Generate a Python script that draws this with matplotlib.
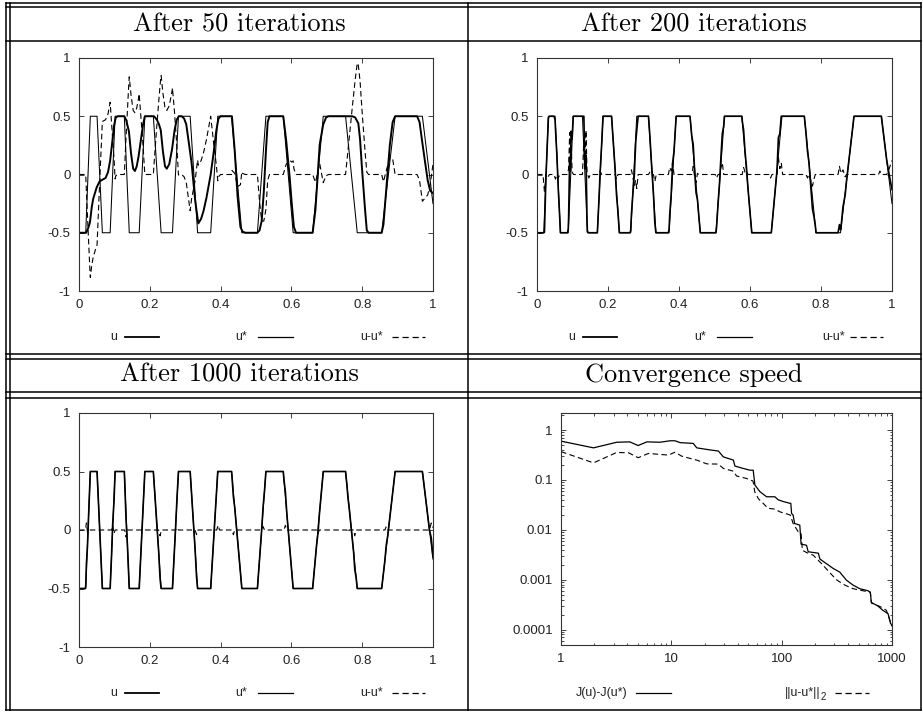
import matplotlib
matplotlib.use("Agg")
import matplotlib.pyplot as plt
from matplotlib.lines import Line2D
from matplotlib.ticker import FixedLocator, FixedFormatter, LogLocator, NullFormatter
import numpy as np

W, H = 923, 713

# target control u* (piecewise linear breakpoints)
ustar_x = [0, 0.019, 0.032, 0.051, 0.066, 0.088, 0.102, 0.128, 0.142, 0.170, 0.186,
           0.210, 0.232, 0.264, 0.281, 0.314, 0.335, 0.372, 0.392, 0.431, 0.460,
           0.504, 0.528, 0.577, 0.605, 0.660, 0.690, 0.753, 0.786, 0.855, 0.893,
           0.970, 1.0]
ustar_y = [-0.5, -0.5, 0.5, 0.5, -0.5, -0.5, 0.5, 0.5, -0.5, -0.5, 0.5,
           0.5, -0.5, -0.5, 0.5, 0.5, -0.5, -0.5, 0.5, 0.5, -0.5,
           -0.5, 0.5, 0.5, -0.5, -0.5, 0.5, 0.5, -0.5, -0.5, 0.5,
           0.5, -0.25]

# u after 50 iterations
u50_x = [0, 0.020, 0.026, 0.031, 0.036, 0.040, 0.050, 0.058, 0.066, 0.075, 0.082, 0.088,
         0.094, 0.099, 0.104, 0.110, 0.128, 0.133, 0.141, 0.147, 0.153, 0.158,
         0.163, 0.168, 0.175, 0.181, 0.186, 0.212, 0.220, 0.226, 0.231, 0.237,
         0.243, 0.248, 0.255, 0.263, 0.270, 0.276, 0.282, 0.290, 0.297, 0.303,
         0.309, 0.318, 0.328, 0.337, 0.345, 0.352, 0.360, 0.366, 0.372, 0.380,
         0.388, 0.394, 0.400, 0.432, 0.440, 0.448, 0.456, 0.462, 0.470, 0.504,
         0.510, 0.516, 0.522, 0.528, 0.533, 0.538, 0.577, 0.585, 0.595, 0.601,
         0.607, 0.613, 0.660, 0.668, 0.680, 0.690, 0.698, 0.705, 0.772, 0.780,
         0.789, 0.794, 0.799, 0.808, 0.813, 0.818, 0.855, 0.860, 0.870, 0.878,
         0.886, 0.893, 0.955, 0.962, 0.970, 0.977, 0.985, 0.992, 1.0]
u50_y = [-0.5, -0.5, -0.46, -0.41, -0.28, -0.21, -0.11, -0.06, -0.045, -0.03, 0.02, 0.12,
         0.28, 0.42, 0.49, 0.5, 0.5, 0.47, 0.37, 0.18, 0.05, 0.03,
         0.07, 0.15, 0.30, 0.43, 0.5, 0.5, 0.47, 0.43, 0.38, 0.20,
         0.07, 0.05, 0.09, 0.22, 0.38, 0.47, 0.5, 0.5, 0.48, 0.43,
         0.30, 0.10, -0.22, -0.42, -0.38, -0.31, -0.20, -0.10, 0.0, 0.18,
         0.38, 0.48, 0.5, 0.5, 0.20, -0.19, -0.45, -0.49, -0.5, -0.5,
         -0.48, -0.40, -0.15, 0.20, 0.45, 0.5, 0.5, 0.30, -0.02, -0.25,
         -0.45, -0.5, -0.5, -0.30, 0.26, 0.43, 0.49, 0.5, 0.5, 0.49,
         0.44, 0.30, 0.07, -0.30, -0.48, -0.5, -0.5, -0.43, -0.05, 0.25,
         0.45, 0.5, 0.5, 0.45, 0.27, 0.12, -0.05, -0.14, -0.16]

# error u-u* after 200 iterations
err200_x = [0, 0.017, 0.021, 0.025, 0.031, 0.035, 0.048, 0.052, 0.056, 0.060, 0.064,
            0.086, 0.089, 0.092, 0.094, 0.096, 0.099, 0.103,
            0.128, 0.132, 0.135, 0.138, 0.141, 0.146, 0.150,
            0.175, 0.178, 0.182, 0.220, 0.224, 0.228,
            0.262, 0.266, 0.270, 0.274, 0.278, 0.281, 0.285,
            0.314, 0.318, 0.322, 0.328, 0.332, 0.336,
            0.370, 0.374, 0.378, 0.382, 0.386,
            0.436, 0.440, 0.444, 0.448, 0.452, 0.456,
            0.502, 0.506, 0.510, 0.514, 0.518, 0.522, 0.526,
            0.578, 0.582, 0.586, 0.590, 0.594, 0.654, 0.658, 0.662,
            0.676, 0.680, 0.684, 0.688, 0.692,
            0.758, 0.762, 0.766, 0.772, 0.776, 0.780, 0.784,
            0.848, 0.852, 0.856, 0.862, 0.868, 0.872,
            0.962, 0.966, 0.970, 0.985, 0.992, 1.0]
err200_y = [0, 0, -0.15, 0, -0.02, 0, 0, -0.04, 0, -0.03, 0,
            0, 0.05, 0.36, 0.10, 0.30, 0.02, 0,
            0, 0.30, 0.05, 0.38, 0.02, -0.03, 0,
            0, 0.03, 0, 0, -0.04, 0,
            0, 0.04, -0.02, -0.10, -0.05, -0.12, 0,
            0, 0.02, 0, 0, -0.06, 0,
            0, 0.06, 0.03, 0.10, 0,
            0, 0.07, -0.02, -0.07, 0.01, 0,
            0, -0.03, 0, 0, 0.06, 0.10, 0,
            0, 0.06, 0.02, 0.03, 0, 0, -0.03, 0,
            0, 0.15, 0.05, 0.10, 0,
            0, -0.03, 0, -0.06, -0.10, -0.04, 0,
            0, 0.07, 0.01, 0.04, -0.02, 0,
            0, 0.03, 0, 0, 0.05, 0.12]

# error u-u* after 1000 iterations
err1000_x = [0, 0.018, 0.021, 0.024, 0.027, 0.092, 0.095, 0.099, 0.102,
             0.129, 0.133, 0.137, 0.225, 0.229, 0.233, 0.273, 0.277, 0.281,
             0.328, 0.332, 0.336, 0.389, 0.393, 0.397, 0.432, 0.436, 0.440,
             0.516, 0.520, 0.524, 0.579, 0.583, 0.587, 0.601, 0.605, 0.609,
             0.671, 0.675, 0.679, 0.757, 0.760, 0.763, 0.776, 0.779, 0.783,
             0.864, 0.868, 0.872, 0.990, 0.995, 1.0]
err1000_y = [0, 0, 0.06, -0.02, 0, 0, 0.04, -0.03, 0,
             0, -0.06, 0, 0, -0.05, 0, 0, 0.02, 0,
             0, -0.04, 0, 0, 0.04, 0, 0, -0.04, 0,
             0, 0.03, 0, 0, 0.04, 0, 0, -0.02, 0,
             0, -0.03, 0, 0, -0.02, 0, 0, -0.05, 0,
             0, 0.03, 0, 0, 0.06, 0.02]

# convergence speed
iters_j = [1, 1.97, 3.2, 4.2, 5.0, 6.0, 7.9, 9.7, 10.8, 12.0, 15.8, 17, 22.4, 26.7,
           29.6, 36.5, 37.7, 44.8, 51.5, 55.2, 57.2, 63.6, 73, 86.7, 92.9, 103,
           118.7, 121, 123, 127, 131, 146, 150, 168, 174, 215, 222, 254, 293,
           336, 386, 443, 510, 605, 636, 650, 748, 823, 921, 970, 1000]
j_gap = [0.60, 0.44, 0.57, 0.58, 0.49, 0.58, 0.57, 0.61, 0.61, 0.56, 0.54, 0.44, 0.40,
         0.38, 0.29, 0.25, 0.19, 0.17, 0.157, 0.157, 0.079, 0.058, 0.046, 0.046,
         0.040, 0.037, 0.034, 0.034, 0.0213, 0.0197, 0.0134, 0.0124, 0.00516,
         0.0049, 0.00363, 0.0034, 0.0026, 0.0021, 0.00168, 0.00142, 0.00098,
         0.00078, 0.00066, 0.00060, 0.00056, 0.00035, 0.000295, 0.000244,
         0.000208, 0.000132, 0.000124]
iters_n = [1, 1.97, 3.2, 4.1, 5.0, 6.2, 7.9, 9.4, 10.8, 12.4, 15.8, 17, 21, 26.7,
           29.6, 36.5, 39, 48, 55, 57, 61.5, 68, 75, 87, 96, 110, 120, 127, 141,
           150, 154, 168, 193, 230, 270, 315, 373, 443, 545, 636, 650, 777, 888,
           970, 1000]
norm_gap = [0.37, 0.22, 0.356, 0.35, 0.279, 0.34, 0.325, 0.315, 0.36, 0.30, 0.26,
            0.25, 0.21, 0.208, 0.17, 0.15, 0.12, 0.107, 0.095, 0.058, 0.042, 0.034,
            0.027, 0.026, 0.023, 0.021, 0.0197, 0.0134, 0.0092, 0.0085, 0.0039,
            0.0035, 0.0031, 0.0021, 0.00142, 0.00099, 0.00078, 0.00066, 0.00060,
            0.00056, 0.00034, 0.00029, 0.000244, 0.000142, 0.000115]

titles = ["After 50 iterations", "After 200 iterations",
          "After 1000 iterations", "Convergence speed"]
wave_xticks = [0, 0.2, 0.4, 0.6, 0.8, 1]
wave_xlabels = ["0", "0.2", "0.4", "0.6", "0.8", "1"]
wave_yticks = [-1, -0.5, 0, 0.5, 1]
wave_ylabels = ["-1", "-0.5", "0", "0.5", "1"]
log_xticks = [1, 10, 100, 1000]
log_xlabels = ["1", "10", "100", "1000"]
log_yticks = [1e-4, 1e-3, 1e-2, 1e-1, 1]
log_ylabels = ["0.0001", "0.001", "0.01", "0.1", "1"]

SANS = "Liberation Sans"
TICK = "#222222"
U_MIN, U_MAX = -0.5, 0.5   # control bounds

fig = plt.figure(figsize=(W / 100, H / 100), dpi=100)


def rect(x0, x1, ytop, ybot):
    return [x0 / W, 1 - ybot / H, (x1 - x0) / W, (ybot - ytop) / H]


def fline(x0, y0, x1, y1, **kw):
    fig.add_artist(Line2D([x0 / W, x1 / W], [1 - y0 / H, 1 - y1 / H],
                          transform=fig.transFigure, **kw))


def style_axes(ax):
    for s in ax.spines.values():
        s.set_linewidth(0.8)
        s.set_color("#333333")
    ax.tick_params(which="major", direction="in", top=True, right=True,
                   length=3.5, width=0.6, labelsize=9.5, pad=6, colors=TICK)
    ax.tick_params(which="minor", direction="in", top=True, right=True,
                   length=1.8, width=0.5)
    for lab in ax.get_xticklabels() + ax.get_yticklabels():
        lab.set_fontfamily(SANS)


def wave_axes(r):
    ax = fig.add_axes(r)
    ax.set_xlim(0, 1)
    ax.set_ylim(-1, 1)
    ax.set_xticks(wave_xticks)
    ax.set_xticklabels(wave_xlabels)
    ax.set_yticks(wave_yticks)
    ax.set_yticklabels(wave_ylabels)
    style_axes(ax)
    return ax


def draw_wave(ax, u_x, u_y, e_x, e_y, u_lw):
    ax.plot(ustar_x, ustar_y, color="black", lw=0.75)
    ax.plot(u_x, u_y, color="black", lw=u_lw)
    ax.plot(e_x, e_y, color="black", lw=0.8, dashes=(5, 3))


def legend_entry(text_x, y, x0, x1, label, lw=1.0, dashed=False, sub=None):
    fig.text(text_x / W, 1 - y / H, label, ha="right", va="center",
             fontsize=9, family=SANS, color=TICK)
    if sub is not None:
        fig.text(text_x / W, 1 - (y + 4) / H, sub, ha="left", va="center",
                 fontsize=7, family=SANS, color=TICK)
    kw = dict(color="black", lw=lw)
    if dashed:
        kw["dashes"] = (5, 3)
    fline(x0, y, x1, y, **kw)


# panel 1 : after 50 iterations (error is u - u*)
grid50 = np.union1d(u50_x, ustar_x)
e50 = np.interp(grid50, u50_x, u50_y) - np.interp(grid50, ustar_x, ustar_y)
ax1 = wave_axes(rect(79, 433, 58, 291))
draw_wave(ax1, u50_x, u50_y, grid50, e50, 1.4)

# panel 2 : after 200 iterations (u = u* + error, kept inside the bounds)
grid200 = np.union1d(err200_x, ustar_x)
u200 = np.clip(np.interp(grid200, ustar_x, ustar_y)
               + np.interp(grid200, err200_x, err200_y), U_MIN, U_MAX)
ax2 = wave_axes(rect(537, 892, 58, 291))
draw_wave(ax2, grid200, u200, err200_x, err200_y, 1.2)

# panel 3 : after 1000 iterations
grid1000 = np.union1d(err1000_x, ustar_x)
u1000 = np.clip(np.interp(grid1000, ustar_x, ustar_y)
                + np.interp(grid1000, err1000_x, err1000_y), U_MIN, U_MAX)
ax3 = wave_axes(rect(79, 433, 413, 647))
draw_wave(ax3, grid1000, u1000, err1000_x, err1000_y, 1.2)

# panel 4 : convergence speed
ax4 = fig.add_axes(rect(561, 892, 413, 645))
ax4.set_xscale("log")
ax4.set_yscale("log")
ax4.plot(iters_j, j_gap, color="black", lw=0.9)
ax4.plot(iters_n, norm_gap, color="black", lw=0.8, dashes=(5, 3))
ax4.set_xlim(1, 1000)
ax4.set_ylim(4.9e-5, 2.2)
ax4.xaxis.set_major_locator(FixedLocator(log_xticks))
ax4.xaxis.set_major_formatter(FixedFormatter(log_xlabels))
ax4.yaxis.set_major_locator(FixedLocator(log_yticks))
ax4.yaxis.set_major_formatter(FixedFormatter(log_ylabels))
ax4.xaxis.set_minor_locator(LogLocator(base=10, subs=np.arange(2, 10)))
ax4.yaxis.set_minor_locator(LogLocator(base=10, subs=np.arange(2, 10)))
ax4.xaxis.set_minor_formatter(NullFormatter())
ax4.yaxis.set_minor_formatter(NullFormatter())
style_axes(ax4)

# legends under the plots
for y in (337, 693):
    legend_entry(117, y, 125, 159, "u", lw=1.3)
    legend_entry(247, y, 258, 293, "u*", lw=0.9)
    legend_entry(383, y, 392, 425, "u-u*", lw=0.9, dashed=True)
legend_entry(575, 337, 583, 617, "u", lw=1.3)
legend_entry(706, 337, 717, 752, "u*", lw=0.9)
legend_entry(845, 337, 850, 883, "u-u*", lw=0.9, dashed=True)
legend_entry(627, 693, 636, 671, "J(u)-J(u*)", lw=0.9)
legend_entry(821, 693, 835, 869, "||u-u*||", lw=0.9, dashed=True, sub="2")

# table titles
for (cx, cy), t in zip([(239, 25), (694, 25), (239, 375), (694, 375)], titles):
    fig.text(cx / W, 1 - cy / H, t, ha="center", va="center",
             fontsize=19, family="cmr10", color="black")

# table rules
rule = dict(color="black", lw=1.1)
for y in (3, 7, 41, 354, 359, 392, 398, 710):
    fline(6, y, 921, y, **rule)
for x in (6, 10, 468, 921):
    fline(x, 3, x, 710, **rule)

fig.savefig("out.png", dpi=100)
